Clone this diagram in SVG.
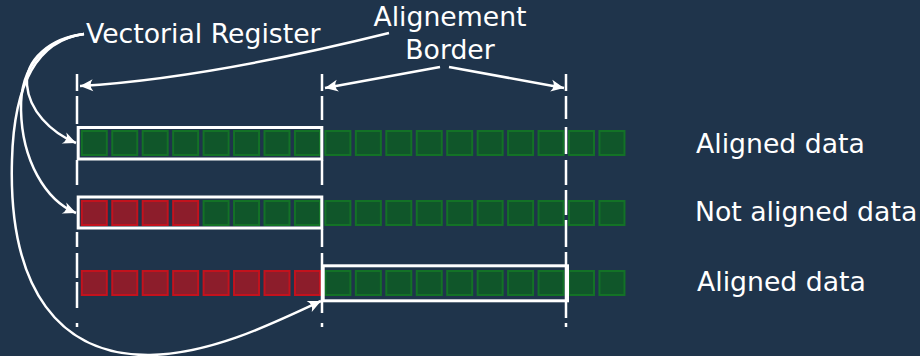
<svg xmlns="http://www.w3.org/2000/svg" width="920" height="356" viewBox="0 0 920 356">
<style>
  .bg{fill:#1f344b}
  .g{fill:#10562a;stroke:#137226;stroke-width:2}
  .r{fill:#8c1d2b;stroke:#c3121d;stroke-width:2}
  .box{fill:none;stroke:#ffffff;stroke-width:3}
  .dash{fill:none;stroke:#ffffff;stroke-width:2.5}
  .con{fill:none;stroke:#ffffff;stroke-width:2.5}
  text{font-family:"DejaVu Sans","Liberation Sans",sans-serif;font-size:26.7px;fill:#ffffff}
</style>
<defs>
  <marker id="ah" markerUnits="userSpaceOnUse" markerWidth="30" markerHeight="30" viewBox="-15 -15 30 30" refX="0" refY="0" orient="auto">
    <path d="M0,0 L-13,-6 Q-8,0 -13,6 Z" fill="#ffffff"/>
  </marker>
</defs>
<rect class="bg" x="0" y="0" width="920" height="356"/>

<g id="row1">
  <rect class="g" x="81.8" y="131" width="25" height="24"/>
  <rect class="g" x="112.25" y="131" width="25" height="24"/>
  <rect class="g" x="142.7" y="131" width="25" height="24"/>
  <rect class="g" x="173.15" y="131" width="25" height="24"/>
  <rect class="g" x="203.6" y="131" width="25" height="24"/>
  <rect class="g" x="234.05" y="131" width="25" height="24"/>
  <rect class="g" x="264.5" y="131" width="25" height="24"/>
  <rect class="g" x="294.95" y="131" width="25" height="24"/>
  <rect class="g" x="325.4" y="131" width="25" height="24"/>
  <rect class="g" x="355.85" y="131" width="25" height="24"/>
  <rect class="g" x="386.3" y="131" width="25" height="24"/>
  <rect class="g" x="416.75" y="131" width="25" height="24"/>
  <rect class="g" x="447.2" y="131" width="25" height="24"/>
  <rect class="g" x="477.65" y="131" width="25" height="24"/>
  <rect class="g" x="508.1" y="131" width="25" height="24"/>
  <rect class="g" x="538.55" y="131" width="25" height="24"/>
  <rect class="g" x="569" y="131" width="25" height="24"/>
  <rect class="g" x="599.45" y="131" width="25" height="24"/>
  <rect class="box" x="78.2" y="127.5" width="243.6" height="31.5"/>
  <text x="696" y="153">Aligned data</text>
</g>

<g id="row2">
  <rect class="r" x="81.8" y="201" width="25" height="24"/>
  <rect class="r" x="112.25" y="201" width="25" height="24"/>
  <rect class="r" x="142.7" y="201" width="25" height="24"/>
  <rect class="r" x="173.15" y="201" width="25" height="24"/>
  <rect class="g" x="203.6" y="201" width="25" height="24"/>
  <rect class="g" x="234.05" y="201" width="25" height="24"/>
  <rect class="g" x="264.5" y="201" width="25" height="24"/>
  <rect class="g" x="294.95" y="201" width="25" height="24"/>
  <rect class="g" x="325.4" y="201" width="25" height="24"/>
  <rect class="g" x="355.85" y="201" width="25" height="24"/>
  <rect class="g" x="386.3" y="201" width="25" height="24"/>
  <rect class="g" x="416.75" y="201" width="25" height="24"/>
  <rect class="g" x="447.2" y="201" width="25" height="24"/>
  <rect class="g" x="477.65" y="201" width="25" height="24"/>
  <rect class="g" x="508.1" y="201" width="25" height="24"/>
  <rect class="g" x="538.55" y="201" width="25" height="24"/>
  <rect class="g" x="569" y="201" width="25" height="24"/>
  <rect class="g" x="599.45" y="201" width="25" height="24"/>
  <rect class="box" x="78.2" y="197" width="243.6" height="31"/>
  <text x="695" y="221">Not aligned data</text>
</g>

<g id="row3">
  <rect class="r" x="81.8" y="271" width="25" height="24"/>
  <rect class="r" x="112.25" y="271" width="25" height="24"/>
  <rect class="r" x="142.7" y="271" width="25" height="24"/>
  <rect class="r" x="173.15" y="271" width="25" height="24"/>
  <rect class="r" x="203.6" y="271" width="25" height="24"/>
  <rect class="r" x="234.05" y="271" width="25" height="24"/>
  <rect class="r" x="264.5" y="271" width="25" height="24"/>
  <rect class="r" x="294.95" y="271" width="25" height="24"/>
  <rect class="g" x="325.4" y="271" width="25" height="24"/>
  <rect class="g" x="355.85" y="271" width="25" height="24"/>
  <rect class="g" x="386.3" y="271" width="25" height="24"/>
  <rect class="g" x="416.75" y="271" width="25" height="24"/>
  <rect class="g" x="447.2" y="271" width="25" height="24"/>
  <rect class="g" x="477.65" y="271" width="25" height="24"/>
  <rect class="g" x="508.1" y="271" width="25" height="24"/>
  <rect class="g" x="538.55" y="271" width="25" height="24"/>
  <rect class="g" x="569" y="271" width="25" height="24"/>
  <rect class="g" x="599.45" y="271" width="25" height="24"/>
  <rect class="box" x="323.2" y="265.8" width="244.3" height="35"/>
  <text x="697" y="291">Aligned data</text>
</g>

<g id="borders">
  <path class="dash" d="M77,74V91M77,96V124M77,160V185M77,232V247M77,253V278M77,282V308M77,323V327"/>
  <path class="dash" d="M322,74V91M322,96V120M322,160V185M322,229V247M322,253V313M322,323V327"/>
  <path class="dash" d="M566,74V91M566,96V119M566,127V154M566,160V185M566,190V215M566,220V247M566,252V318M566,323V327"/>
</g>

<g id="labels">
  <text x="86" y="43">Vectorial Register</text>
  <text x="450" y="26" text-anchor="middle">Alignement</text>
  <text x="450" y="59" text-anchor="middle">Border</text>
</g>

<g id="connectors">
  <path class="con" marker-end="url(#ah)" d="M389,33 C300,55 180,80 80,86"/>
  <path class="con" marker-end="url(#ah)" d="M440,67 L325,88"/>
  <path class="con" marker-end="url(#ah)" d="M449,67 L564,88"/>
  <path class="con" marker-end="url(#ah)" d="M84,34 C50,38 25,60 27,85 C29,110 50,132 76,143"/>
  <path class="con" marker-end="url(#ah)" d="M84,34 C45,40 20,65 21,110 C22,160 45,200 76,213"/>
  <path class="con" marker-end="url(#ah)" d="M84,34 C40,40 14,80 12,160 C8,290 60,356 150,355 C210,354 270,325 321,301"/>
</g>
</svg>
